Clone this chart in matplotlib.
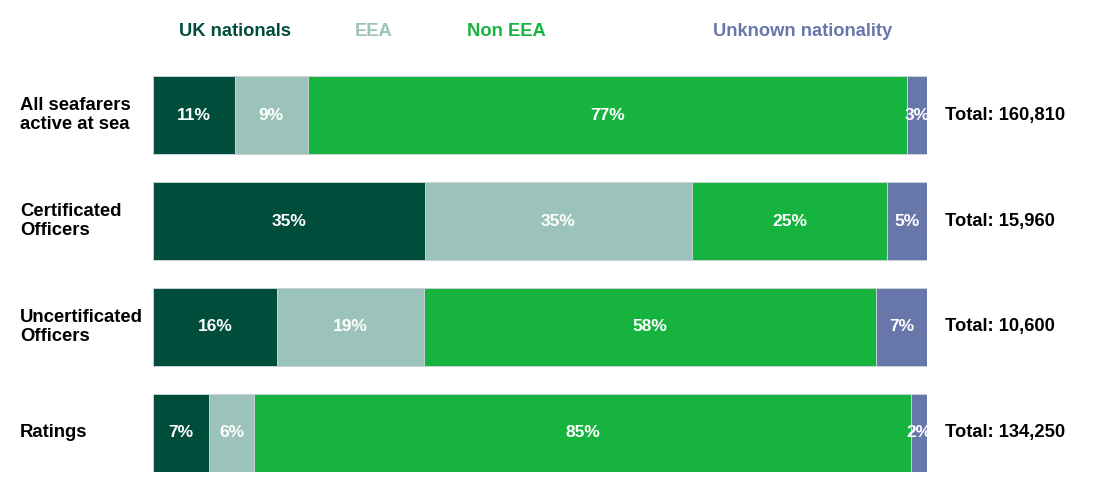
import matplotlib
matplotlib.use("Agg")
import matplotlib.pyplot as plt
import matplotlib.transforms as mtransforms
import numpy as np

plt.rcParams['font.family'] = ['Liberation Sans', 'DejaVu Sans']

categories = ["All seafarers\nactive at sea", "Certificated\nOfficers", "Uncertificated\nOfficers", "Ratings"]
series_names = ["UK nationals", "EEA", "Non EEA", "Unknown nationality"]
uk = [10.6, 35.1, 16.0, 7.2]
eea = [9.4, 34.6, 19.0, 5.9]
non_eea = [77.4, 25.1, 58.4, 84.8]
unknown = [2.6, 5.2, 6.6, 2.1]
uk_labels = ["11%", "35%", "16%", "7%"]
eea_labels = ["9%", "35%", "19%", "6%"]
non_eea_labels = ["77%", "25%", "58%", "85%"]
unknown_labels = ["3%", "5%", "7%", "2%"]
totals = ["Total: 160,810", "Total: 15,960", "Total: 10,600", "Total: 134,250"]

colors = ["#004d3b", "#9bc3b9", "#16b43f", "#6877aa"]

W, H = 1106, 500
fig = plt.figure(figsize=(W / 100, H / 100), dpi=100)
ax = fig.add_axes([153 / W, 1 - 472 / H, (927 - 153) / W, (472 - 76) / H])

series = [uk, eea, non_eea, unknown]
labels = [uk_labels, eea_labels, non_eea_labels, unknown_labels]
y = np.arange(len(categories))
bh = 0.736
left = np.zeros(len(categories))
for vals, labs, c in zip(series, labels, colors):
    vals = np.array(vals)
    ax.barh(y, vals, left=left, height=bh, color=c, edgecolor="#c9d2d6", linewidth=0.7)
    for yi, (l, v, lab) in enumerate(zip(left, vals, labs)):
        ax.text(l + v / 2, yi, lab, ha="center", va="center", color="white",
                fontsize=12.5, fontweight="bold")
    left = left + vals

ax.set_xlim(0, left.max())
ax.set_ylim(len(categories) - 1 + bh / 2, -bh / 2)
ax.axis("off")

trans = mtransforms.blended_transform_factory(fig.transFigure, ax.transData)
for yi, (cat, tot) in enumerate(zip(categories, totals)):
    ax.text(20 / W, yi, cat, transform=trans, ha="left", va="center",
            fontsize=13.3, fontweight="bold", color="black", linespacing=1.2)
    ax.text(945 / W, yi, tot, transform=trans, ha="left", va="center",
            fontsize=13.2, fontweight="bold", color="black")

legend_x = [235, 374, 506, 803]
for name, c, lx in zip(series_names, colors, legend_x):
    fig.text(lx / W, 1 - 31 / H, name, ha="center", va="center",
             fontsize=13.2, fontweight="bold", color=c)

fig.savefig("out.png", dpi=100)
